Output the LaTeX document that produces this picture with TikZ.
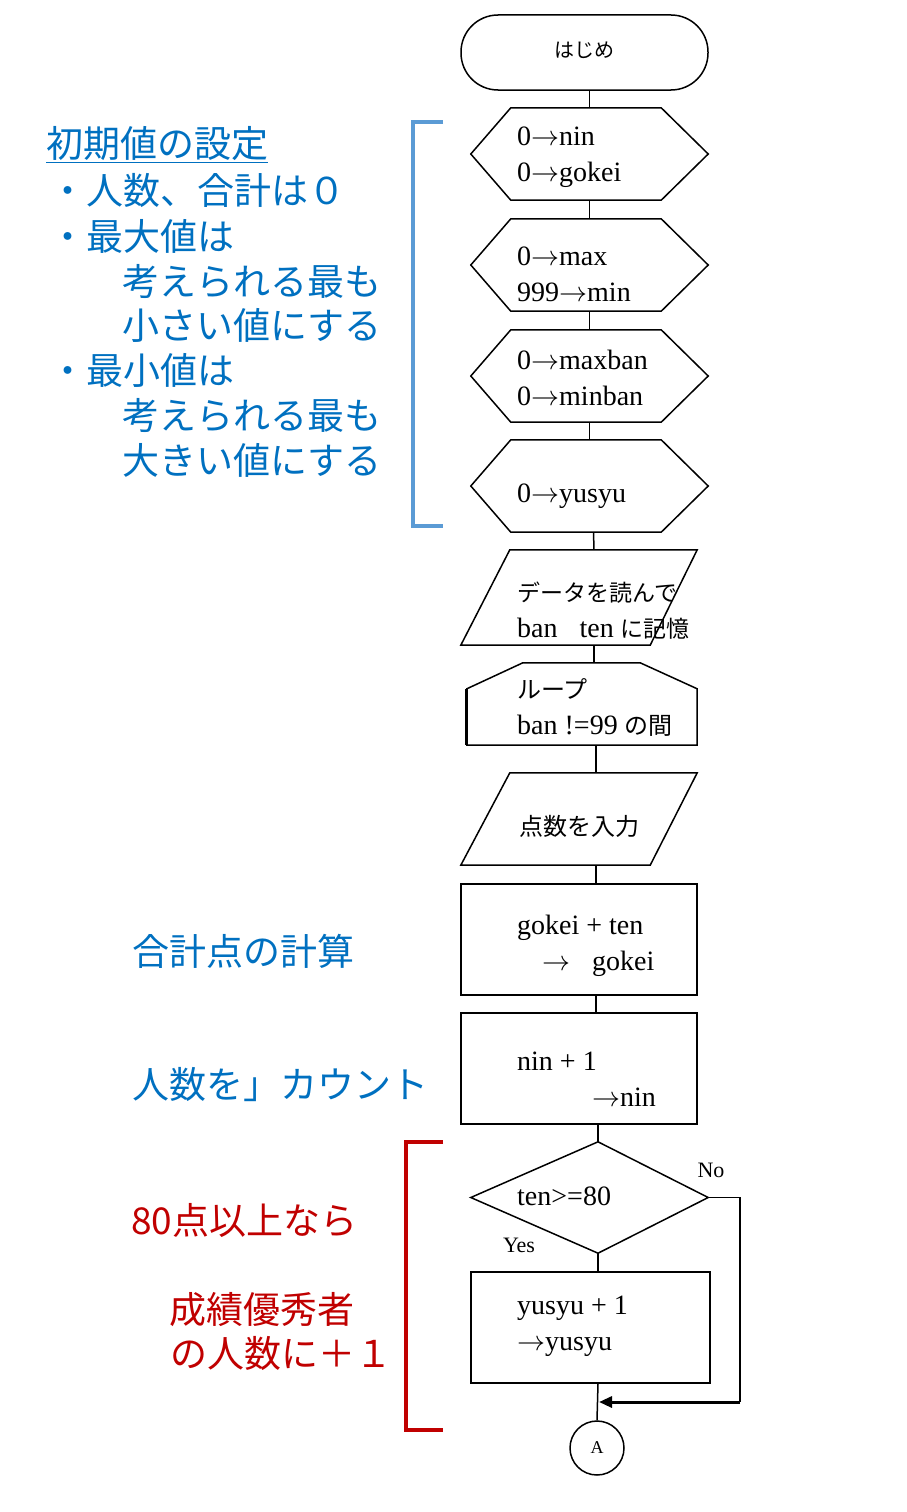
\RequirePackage{fix-cm}
\documentclass[tikz,border=0pt]{standalone}
\usepackage{fontspec}
\setmainfont{Liberation Serif}
\newfontfamily\jp{Noto Sans CJK JP}
\usetikzlibrary{arrows.meta}
\definecolor{noteblue}{HTML}{0070C0}
\definecolor{bracketblue}{HTML}{5B9BD5}
\definecolor{notered}{HTML}{C00000}
\newcommand{\ar}{\ensuremath{\rightarrow}}

\begin{document}
\begin{tikzpicture}[%
        x = 1pt, y = -1pt,
        line/.style = {line width=1.5pt},
        shapebox/.style = {minimum width=237pt, minimum height=92pt, inner sep=0pt},
        procbox/.style = {draw, line width=1.5pt, minimum width=236pt, minimum height=111pt, inner sep=0pt},
        flowtext/.style = {anchor=west, align=left, inner sep=0pt, font=\fontsize{28}{36}\selectfont},
        smalltext/.style = {inner sep=0pt, font=\fontsize{22}{22}\selectfont},
        note/.style = {anchor=west, inner sep=0pt, text=noteblue, font=\jp\fontsize{37}{45}\selectfont},
        rednote/.style = {note, text=notered}
    ]
      \useasboundingbox (0,0) rectangle (907,1512);

      \node[draw, line width=1.5pt, rounded corners=37pt, minimum width=247pt, minimum height=75pt,
            font=\jp\fontsize{20}{20}\selectfont] (start) at (584.5,52.5) {\raisebox{5pt}{はじめ}};

      \node[shapebox] (hx1) at (589.5,154) {};
      \draw[line] ([xshift=40pt]hx1.north west) -- ([xshift=-47pt]hx1.north east) -- (hx1.east)
        -- ([xshift=-47pt]hx1.south east) -- ([xshift=40pt]hx1.south west) -- (hx1.west) -- cycle;
      \node[shapebox] (hx2) at (589.5,265) {};
      \draw[line] ([xshift=40pt]hx2.north west) -- ([xshift=-47pt]hx2.north east) -- (hx2.east)
        -- ([xshift=-47pt]hx2.south east) -- ([xshift=40pt]hx2.south west) -- (hx2.west) -- cycle;
      \node[shapebox] (hx3) at (589.5,376) {};
      \draw[line] ([xshift=40pt]hx3.north west) -- ([xshift=-47pt]hx3.north east) -- (hx3.east)
        -- ([xshift=-47pt]hx3.south east) -- ([xshift=40pt]hx3.south west) -- (hx3.west) -- cycle;
      \node[shapebox] (hx4) at (589.5,486) {};
      \draw[line] ([xshift=40pt]hx4.north west) -- ([xshift=-47pt]hx4.north east) -- (hx4.east)
        -- ([xshift=-47pt]hx4.south east) -- ([xshift=40pt]hx4.south west) -- (hx4.west) -- cycle;

      \node[shapebox, minimum width=236pt, minimum height=95pt] (io1) at (579,597.5) {};
      \draw[line] ([xshift=49pt]io1.north west) -- (io1.north east)
        -- ([xshift=-47pt]io1.south east) -- (io1.south west) -- cycle;

      \node[shapebox, minimum width=230pt, minimum height=82pt] (lp) at (582,704) {};
      \draw[line] ([xshift=56pt]lp.north west) -- ([xshift=-57pt]lp.north east) -- ([yshift=-26pt]lp.north east)
        -- (lp.south east) -- (lp.south west) -- ([yshift=-26pt]lp.north west) -- cycle;
      \draw[line width=3pt] ([yshift=-26pt]lp.north west) -- (lp.south west);

      \node[shapebox, minimum width=236pt] (io2) at (579,819) {};
      \draw[line] ([xshift=49pt]io2.north west) -- (io2.north east)
        -- ([xshift=-47pt]io2.south east) -- (io2.south west) -- cycle;

      \node[procbox] (pr1) at (579,939.5) {};
      \node[procbox] (pr2) at (579,1068.5) {};

      \node[shapebox, minimum height=111pt] (dm) at (589.5,1197.5) {};
      \draw[line] ([xshift=8.5pt]dm.north) -- (dm.east) -- ([xshift=8.5pt]dm.south) -- (dm.west) -- cycle;

      \node[procbox, minimum width=239pt] (pr3) at (590.5,1327.5) {};
      \node[draw, circle, line width=1.5pt, minimum size=54pt, inner sep=0pt,
            font=\fontsize{18}{18}\selectfont] (cn) at (597,1448) {A};

      \node[flowtext] (hx1t) at (517,157) {0\ar nin\\0\ar gokei};
      \node[flowtext] (hx2t) at (517,274.5) {0\ar max\\999\ar min};
      \node[flowtext] (hx3t) at (517,378) {0\ar maxban\\0\ar minban};
      \node[flowtext] (hx4t) at (517,496) {0\ar yusyu};
      \node[flowtext] (io1t) at (517,611) {{\jp\fontsize{23}{36}\selectfont データを読んで}\\ban\hspace{22pt}ten {\jp\fontsize{23}{36}\selectfont に記憶}};
      \node[flowtext] (lpt) at (517,707) {{\jp\fontsize{24}{36}\selectfont ループ}\\ban !=99 {\jp\fontsize{24}{36}\selectfont の間}};
      \node[flowtext, font=\jp\fontsize{24}{36}\selectfont] (io2t) at (519,826) {点数を入力};
      \node[flowtext] (pr1t) at (517,946) {gokei + ten\\\hspace{25pt}\ar\hspace{22pt}gokei};
      \node[flowtext] (pr2t) at (517,1079) {nin + 1\\\hspace{75pt}\ar nin};
      \node[flowtext] (dmt) at (517,1196) {ten>=80};
      \node[flowtext] (pr3t) at (517,1326) {yusyu + 1\\\ar yusyu};
      \node[smalltext] (no) at (711,1170) {No};
      \node[smalltext] (yes) at (519,1245) {Yes};

      \draw[line] (hx1.north |- start.south) -- (hx1.north);
      \draw[line] (hx1.south) -- (hx2.north);
      \draw[line] (hx2.south) -- (hx3.north);
      \draw[line] (hx3.south) -- (hx4.north);
      \draw[line] ([xshift=4pt]hx4.south) -- ([xshift=15pt]io1.north);
      \draw[line] ([xshift=15pt]io1.south) -- ([xshift=12pt]lp.north);
      \draw[line] ([xshift=14pt]lp.south) -- ([xshift=17pt]io2.north);
      \draw[line] ([xshift=17pt]io2.south) -- ([xshift=17pt]pr1.north);
      \draw[line] ([xshift=17pt]pr1.south) -- ([xshift=17pt]pr2.north);
      \draw[line] ([xshift=19pt]pr2.south) -- ([xshift=8.5pt]dm.north);
      \draw[line] ([xshift=8.5pt]dm.south) -- ([xshift=7.5pt]pr3.north);
      \draw[line] ([xshift=7.5pt]pr3.south) -- (cn.north);
      \coordinate (mg) at (599,1402);
      \coordinate (nr) at (740,1402);
      \draw[line] (dm.east) -| (nr);
      \draw[line width=3pt, -{Triangle[length=13pt, width=11pt]}] (nr) -- (mg);

      \draw[bracketblue, line width=4pt] (443,122) -- (413,122) -- (413,526) -- (443,526);
      \draw[notered, line width=4.5pt] (443,1142) -- (406,1142) -- (406,1430) -- (443,1430);

      \node[note] (init) at (46,145) {\underline{初期値の設定}};
      \node[note] (n1) at (49,190) {・人数、合計は０};
      \node[note] (n2) at (49,236) {・最大値は};
      \node[note] (n3) at (122,281) {考えられる最も};
      \node[note] (n4) at (122,325) {小さい値にする};
      \node[note] (n5) at (49,370) {・最小値は};
      \node[note] (n6) at (122,415) {考えられる最も};
      \node[note] (n7) at (122,460) {大きい値にする};
      \node[note] (sum) at (132,951) {合計点の計算};
      \node[note] (cnt) at (132,1085) {人数を」カウント};
      \node[rednote] (r1) at (131,1220) {80点以上なら};
      \node[rednote] (r2) at (169,1310) {成績優秀者};
      \node[rednote] (r3) at (170,1353) {の人数に＋１};
    \end{tikzpicture}
\end{document}
